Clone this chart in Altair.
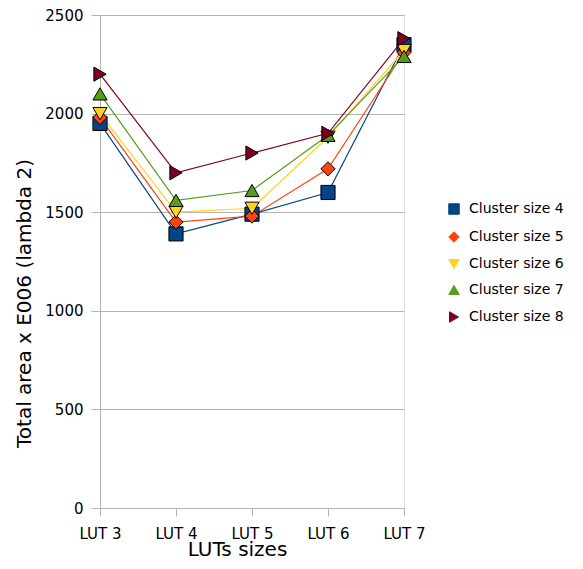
import altair as alt
import pandas as pd

categories = ["LUT 3", "LUT 4", "LUT 5", "LUT 6", "LUT 7"]
series_names = ["Cluster size 4", "Cluster size 5", "Cluster size 6", "Cluster size 7", "Cluster size 8"]
cluster4 = [1950, 1390, 1490, 1600, 2350]
cluster5 = [1980, 1450, 1480, 1720, 2310]
cluster6 = [2000, 1500, 1520, 1880, 2320]
cluster7 = [2100, 1560, 1610, 1890, 2290]
cluster8 = [2200, 1700, 1800, 1900, 2380]
colors = ["#004586", "#ff420e", "#ffd320", "#579d1c", "#7e0021"]
shapes = ["square", "diamond", "triangle-down", "triangle-up", "triangle-right"]

rows = []
for name, vals in zip(series_names, [cluster4, cluster5, cluster6, cluster7, cluster8]):
    for c, v in zip(categories, vals):
        rows.append({"lut": c, "series": name, "value": v})
df = pd.DataFrame(rows)

FONT = "DejaVu Sans"

x = alt.X("lut:N", sort=categories, scale=alt.Scale(type="point", padding=0),
          axis=alt.Axis(title="LUTs sizes", labelAngle=0, grid=False, domain=False,
                        tickColor="#b3b3b3", tickSize=8, labelPadding=10,
                        labelFontSize=15, titleFontSize=20, titleFontWeight="normal",
                        labelColor="#000000", titleColor="#000000",
                        titleX=137, titleY=47, titleBaseline="alphabetic", titleAlign="center"))
y = alt.Y("value:Q", scale=alt.Scale(domain=[0, 2500], nice=False),
          axis=alt.Axis(title="Total area x E006 (lambda 2)", values=[0, 500, 1000, 1500, 2000, 2500],
                        format="d",
                        gridColor="#b3b3b3", domainColor="#b3b3b3", tickColor="#b3b3b3",
                        tickSize=9, labelPadding=8, labelFontSize=15, titleFontSize=20,
                        titleFontWeight="normal", labelColor="#000000", titleColor="#000000",
                        titleX=-70, titleY=288, titleBaseline="alphabetic", titleAlign="center",
                        titleAngle=270))

color_scale = alt.Scale(domain=series_names, range=colors)
legend = alt.Legend(title=None, orient="none", legendX=347, legendY=187, padding=0,
                    labelFontSize=14, symbolSize=110, symbolStrokeColor="#000000",
                    symbolStrokeWidth=1, labelColor="#000000", rowPadding=12,
                    labelOffset=8, labelFont=FONT, symbolOpacity=1)

lines = alt.Chart(df).mark_line(strokeWidth=1.2).encode(
    x=x, y=y,
    color=alt.Color("series:N", scale=color_scale, legend=legend),
    detail="series:N")
points = alt.Chart(df).mark_point(filled=True, size=200, stroke="#000000", strokeWidth=1, opacity=1).encode(
    x=x, y=y,
    color=alt.Color("series:N", scale=color_scale, legend=legend),
    shape=alt.Shape("series:N", scale=alt.Scale(domain=series_names, range=shapes), legend=legend),
)

chart = alt.layer(lines, points).properties(
    width=304, height=493,
    autosize="none",
    padding={"left": 92, "top": 7, "right": 171, "bottom": 53},
).configure_view(stroke="#b3b3b3").configure(font=FONT)

chart.save("out.html", embed_options={"renderer": "svg", "actions": False})
